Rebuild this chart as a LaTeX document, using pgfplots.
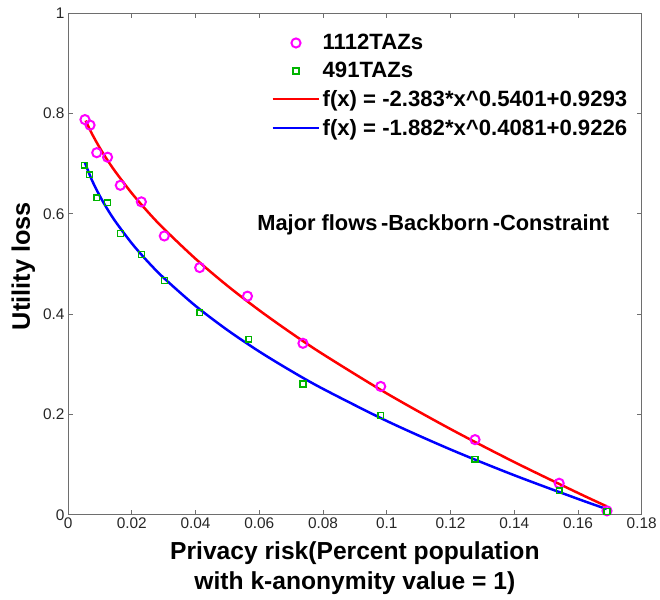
\documentclass[border=0pt]{standalone}
\usepackage{pgfplots}
\pgfplotsset{compat=1.18}
\usepackage{fontspec}
\setmainfont{Liberation Sans}
\definecolor{axgray}{RGB}{110,110,110}
\definecolor{mkgreen}{RGB}{0,180,0}
\definecolor{mkmag}{RGB}{255,0,255}
\definecolor{fitred}{RGB}{255,0,0}
\definecolor{fitblue}{RGB}{0,0,255}
\pgfplotsset{
  lineleg/.style={legend image code/.code={\draw[##1] (0bp,0bp) -- (47bp,0bp);}},
  markleg/.style={legend image code/.code={\draw[##1] plot coordinates {(23.5bp,0bp)};}},
  magstyle/.style={only marks, mark=o, draw=mkmag, line width=2pt, mark size=4.6bp},
  grnstyle/.style={only marks, mark=square, draw=mkgreen, line width=1.5pt, mark size=2.9bp},
  redstyle/.style={fitred, line width=2.5pt, no markers},
  bluestyle/.style={fitblue, line width=2.5pt, no markers},
}
\begin{document}
\begin{tikzpicture}
\begin{axis}[
  scale only axis,
  width=575.7bp, height=503.4bp,
  xmin=0, xmax=0.18, ymin=0, ymax=1,
  xtick={0,0.02,0.04,0.06,0.08,0.1,0.12,0.14,0.16,0.18},
  ytick={0,0.2,0.4,0.6,0.8,1},
  xticklabels={0,0.02,0.04,0.06,0.08,0.1,0.12,0.14,0.16,0.18},
  yticklabels={0,0.2,0.4,0.6,0.8,1},
  /pgf/number format/assume math mode=true,
  tick label style={font=\fontsize{15.5}{18}\selectfont, text=black!85},
  xticklabel style={yshift=1bp},
  tick align=inside,
  major tick length=5bp,
  axis line style={axgray, line width=0.8pt},
  tick style={axgray, line width=0.8pt},
  clip=false,
  xlabel={Privacy risk(Percent population\\with k-anonymity value = 1)},
  xlabel style={font=\fontsize{24.8}{31}\selectfont\bfseries, align=center,
    at={(axis description cs:0.5,0)}, anchor=north, yshift=-23bp},
  ylabel={Utility loss},
  ylabel style={font=\fontsize{25.5}{28}\selectfont\bfseries,
    at={(axis description cs:0,0.496)}, anchor=center, yshift=45bp},
  legend style={draw=none, fill=none, at={(axis description cs:0.354,0.962)},
    anchor=north west, font=\fontsize{22.3}{26.8}\selectfont\bfseries,
    row sep=7.1bp, inner sep=0pt},
  legend cell align=left,
]
\addlegendimage{magstyle, markleg}
\addlegendentry{1112TAZs}
\addlegendimage{grnstyle, markleg}
\addlegendentry{491TAZs}
\addlegendimage{redstyle, lineleg}
\addlegendentry{f(x) = -2.383*x\^{}0.5401+0.9293}
\addlegendimage{bluestyle, lineleg}
\addlegendentry{f(x) = -1.882*x\^{}0.4081+0.9226}
% fitted curves (values of the printed fits, read at the listed x)
\addplot[redstyle, smooth, forget plot] coordinates {
(0.0055,0.786) (0.0075,0.7597) (0.01,0.7312) (0.0125,0.7058) (0.015,0.6828)
(0.02,0.6412) (0.025,0.6043) (0.03,0.5707) (0.04,0.5105) (0.05,0.4567)
(0.06,0.4078) (0.07,0.3626) (0.08,0.3202) (0.1,0.2421) (0.12,0.1711)
(0.14,0.1053) (0.16,0.0437) (0.169,0.0171)
};
\addplot[bluestyle, smooth, forget plot] coordinates {
(0.0053,0.702) (0.0075,0.6671) (0.01,0.6353) (0.0125,0.6078) (0.015,0.5836)
(0.02,0.5413) (0.025,0.5049) (0.03,0.4726) (0.04,0.4166) (0.05,0.3684)
(0.06,0.3256) (0.07,0.2869) (0.08,0.2512) (0.1,0.1872) (0.12,0.1304)
(0.14,0.0790) (0.16,0.0318) (0.169,0.0116)
};
% data points
\addplot[magstyle, forget plot] coordinates {
(0.0053,0.788) (0.0069,0.777) (0.0090,0.722) (0.0124,0.713) (0.0164,0.657)
(0.0230,0.624) (0.0302,0.556) (0.0413,0.493) (0.0563,0.436) (0.0737,0.342)
(0.0981,0.256) (0.1277,0.150) (0.1541,0.063) (0.1691,0.008)
};
\addplot[grnstyle, forget plot] coordinates {
(0.0051,0.697) (0.0067,0.678) (0.0090,0.632) (0.0124,0.622) (0.0165,0.561)
(0.0230,0.519) (0.0303,0.467) (0.0413,0.403) (0.0567,0.350) (0.0737,0.261)
(0.0981,0.198) (0.1277,0.111) (0.1541,0.048) (0.1691,0.007)
};
\node[font=\fontsize{22}{26}\selectfont\bfseries, anchor=center]
  at (axis cs:0.1146,0.5775) {Major flows\,-Backborn\,-Constraint};
\end{axis}
\path (current axis.south west) ++(-68.3bp,-85.3bp) rectangle ++(660bp,602bp);
\end{tikzpicture}
\end{document}
